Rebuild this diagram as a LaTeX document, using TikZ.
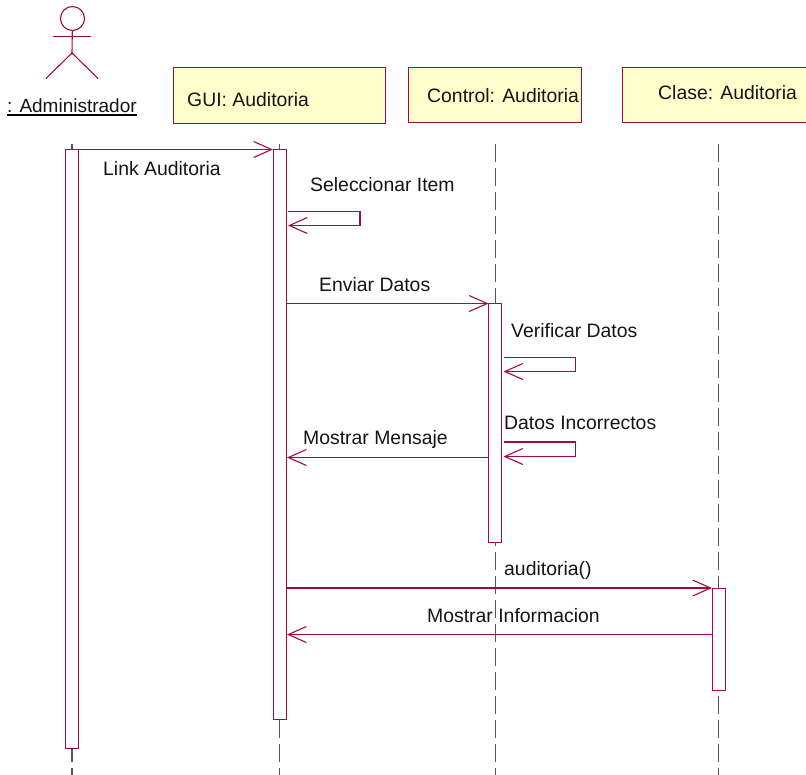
\documentclass[tikz,border=0pt]{standalone}
\usepackage{fontspec}
\setmainfont{Liberation Sans}
\usetikzlibrary{arrows.meta}
\definecolor{umlline}{HTML}{A5093F}
\definecolor{umlfill}{HTML}{FFFFCC}
\definecolor{lifegray}{HTML}{555555}
\tikzset{
  x=1pt,y=-1pt,
  txt/.style={inner sep=0pt,anchor=base west,text=black!92,font=\fontsize{19.4}{22}\selectfont},
  objbox/.style={draw=umlline,fill=umlfill,line width=1.1pt,anchor=north west,inner sep=0pt},
  actbox/.style={draw=umlline,fill=white,line width=1.1pt,anchor=north west,inner sep=0pt},
  lifeline/.style={draw=lifegray,line width=1.1pt,dash pattern=on 18pt off 6pt},
  msg/.style={draw=umlline,line width=1.1pt,-{Straight Barb[length=18pt,width=16pt,line width=1.1pt]}},
  actor/.style={draw=umlline,line width=1.1pt},
}
\begin{document}
\begin{tikzpicture}
\useasboundingbox (0.5,0.5) rectangle (806.5,774.5);
% lifeline ends
\coordinate (l1t) at (72.5,144); \coordinate (l1b) at (72.5,775);
\coordinate (l2t) at (280,144); \coordinate (l2b) at (280,775);
\coordinate (l3t) at (496,144); \coordinate (l3b) at (496,775);
\coordinate (l4t) at (719,144); \coordinate (l4b) at (719,775);
\draw[lifeline] (l1t) -- (l1b);
\draw[lifeline] (l2t) -- (l2b);
\draw[lifeline] (l3t) -- (l3b);
\draw[lifeline] (l4t) -- (l4b);
% objects
\node[objbox,minimum width=212pt,minimum height=55.5pt] (gui) at (173.5,67.5) {};
\node[objbox,minimum width=173pt,minimum height=55pt] (ctl) at (408.5,67.5) {};
\node[objbox,minimum width=190pt,minimum height=55pt] (cla) at (622.5,67.5) {};
\node[txt] (guit) at (187.5,106.5) {GUI: Auditoria};
\node[txt] (ctlt) at (427.5,102.5) {Control: Auditoria};
\node[txt] (clat) at (658.5,100) {Clase: Auditoria};
% actor
\node[actor,circle,minimum size=24pt,inner sep=0pt] (head) at (73,19) {};
\coordinate (arml) at (53.5,37); \coordinate (armr) at (91.5,37);
\coordinate (hip) at (72.5,53.5); \coordinate (legl) at (46.5,79); \coordinate (legr) at (98.5,79);
\draw[actor] (head) -- (hip);
\draw[actor] (arml) -- (armr);
\draw[actor] (legl) -- (hip) -- (legr);
\node[txt,font=\fontsize{19}{22}\selectfont] (admin) at (7.5,112.5) {: Administrador};
\coordinate (ulA) at (7.5,115.5); \coordinate (ulB) at (137.5,115.5);
\draw[black,line width=1.5pt] (ulA) -- (ulB);
% activations
\node[actbox,minimum width=13pt,minimum height=598.5pt] (a1) at (65,149.5) {};
\node[actbox,minimum width=13pt,minimum height=569.5pt] (a2) at (273,149.5) {};
\node[actbox,minimum width=13pt,minimum height=238.5pt] (a3) at (488.5,303.5) {};
\node[actbox,minimum width=13pt,minimum height=102pt] (a4) at (712,588.5) {};
% message ends
\coordinate (m1a) at (79,150); \coordinate (m1b) at (273.5,150);
\coordinate (s1a) at (288.5,212); \coordinate (s1c) at (360.5,212); \coordinate (s1d) at (360.5,226); \coordinate (s1b) at (288.5,226);
\coordinate (m2a) at (287.5,304); \coordinate (m2b) at (489,304);
\coordinate (s2a) at (504,358); \coordinate (s2c) at (576,358); \coordinate (s2d) at (576,372); \coordinate (s2b) at (504,372);
\coordinate (s3a) at (504,442.5); \coordinate (s3c) at (576,442.5); \coordinate (s3d) at (576,457); \coordinate (s3b) at (504,457);
\coordinate (m3a) at (489,458); \coordinate (m3b) at (287.5,458);
\coordinate (m4a) at (287.5,588.5); \coordinate (m4b) at (712.5,588.5);
\coordinate (m5a) at (712,635); \coordinate (m5b) at (287.5,635);
\draw[msg] (m1a) -- (m1b);
\draw[msg] (s1a) -- (s1c) -- (s1d) -- (s1b);
\draw[msg] (m2a) -- (m2b);
\draw[msg] (s2a) -- (s2c) -- (s2d) -- (s2b);
\draw[msg] (s3a) -- (s3c) -- (s3d) -- (s3b);
\draw[msg] (m3a) -- (m3b);
\draw[msg] (m4a) -- (m4b);
\draw[msg] (m5a) -- (m5b);
% labels
\node[txt] (t1) at (103.5,176) {Link Auditoria};
\node[txt] (t2) at (310.5,191.5) {Seleccionar Item};
\node[txt] (t3) at (319.5,292) {Enviar Datos};
\node[txt] (t4) at (511.5,337.5) {Verificar Datos};
\node[txt] (t5) at (504.5,430) {Datos Incorrectos};
\node[txt] (t6) at (303.5,445) {Mostrar Mensaje};
\node[txt] (t7) at (504.5,575.5) {auditoria()};
\node[txt] (t8) at (427.5,623) {Mostrar Informacion};
\end{tikzpicture}
\end{document}
